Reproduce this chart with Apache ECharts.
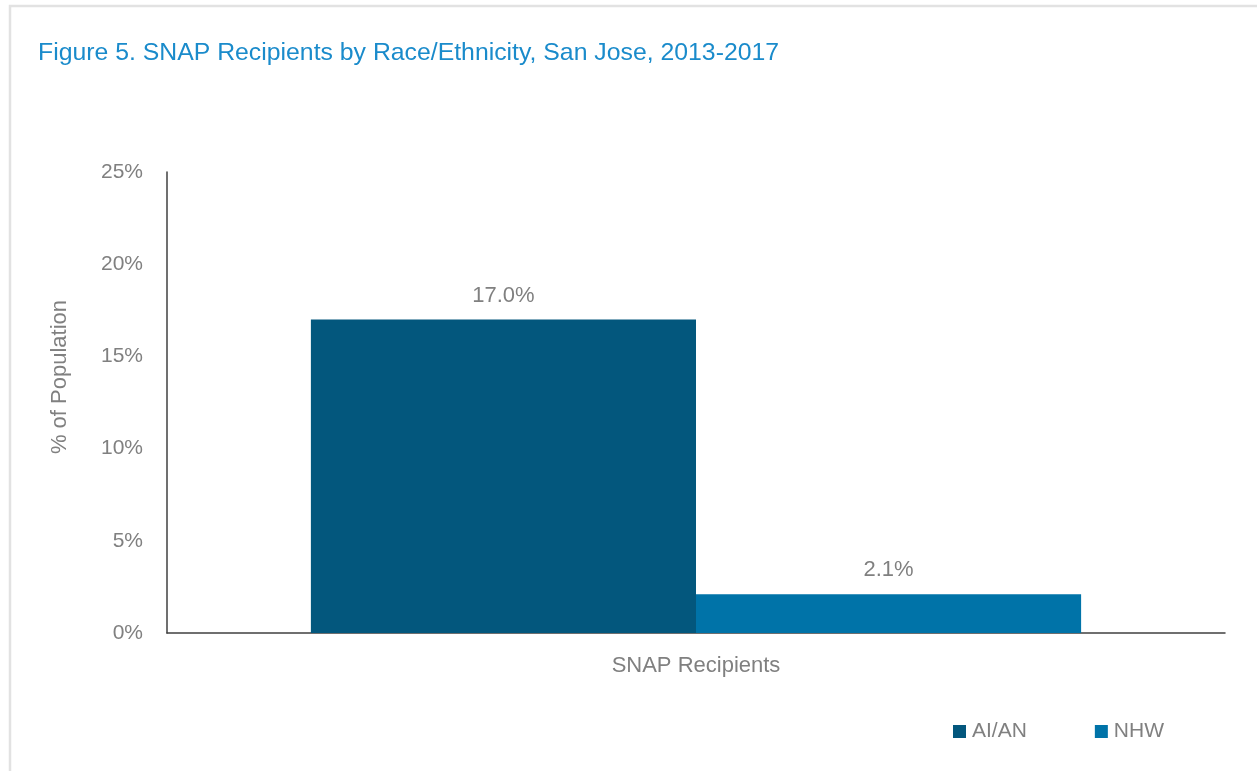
<!DOCTYPE html>
<html>
<head>
<meta charset="utf-8">
<script src="https://cdn.jsdelivr.net/npm/echarts@6/dist/echarts.min.js"></script>
<style>
html,body{margin:0;padding:0;background:#fff;}
#chart{width:1257px;height:771px;}
</style>
</head>
<body>
<div id="chart"></div>
<script>
var categories = ['SNAP Recipients'];
var seriesNames = ['AI/AN', 'NHW'];
var aianValues = [17.0];
var nhwValues = [2.1];
var yTicks = [0, 5, 10, 15, 20, 25];

var narrow = "'Liberation Sans Narrow', 'Arial Narrow', 'Liberation Sans', sans-serif";
var sans = "'Liberation Sans', Arial, sans-serif";
var grey = '#808080';

var chart = echarts.init(document.getElementById('chart'), null, {renderer: 'canvas'});
chart.setOption({
  animation: false,
  backgroundColor: '#ffffff',
  title: {
    text: 'Figure 5. SNAP Recipients by Race/Ethnicity, San Jose, 2013-2017',
    left: 33, top: 36,
    textStyle: {color: '#1a8bcb', fontFamily: narrow, fontWeight: 'normal', fontSize: 24.8}
  },
  graphic: [
    {type: 'rect', shape: {x: 10, y: 6, width: 1260, height: 800}, style: {fill: 'none', stroke: '#e2e2e2', lineWidth: 2.5}, silent: true},
    {type: 'text', x: 60, y: 377, rotation: Math.PI / 2,
     style: {text: '% of Population', fill: grey, font: '22px ' + sans, textAlign: 'center', textVerticalAlign: 'middle'}}
  ],
  legend: {
    data: seriesNames,
    left: 948, top: 716,
    itemWidth: 13, itemHeight: 13, itemGap: 68,
    icon: 'rect',
    textStyle: {color: grey, fontFamily: sans, fontSize: 21, padding: [0, 0, 0, 1]}
  },
  grid: {left: 167, right: 32, top: 172, bottom: 138, containLabel: false},
  xAxis: {
    type: 'category',
    data: categories,
    axisLine: {show: true, lineStyle: {color: '#404040', width: 1.5}},
    axisTick: {show: false},
    axisLabel: {color: grey, fontFamily: narrow, fontSize: 22, margin: 22}
  },
  yAxis: {
    type: 'value',
    min: yTicks[0], max: yTicks[yTicks.length - 1], interval: 5,
    axisLine: {show: true, lineStyle: {color: '#404040', width: 1.5}},
    axisTick: {show: false},
    splitLine: {show: false},
    axisLabel: {color: grey, fontFamily: sans, fontSize: 21, margin: 24, formatter: function (v) { return v + '%'; }}
  },
  series: [
    {name: seriesNames[0], type: 'bar', data: aianValues, barGap: '0%', barCategoryGap: '27.2%',
     itemStyle: {color: '#03577d'},
     label: {show: true, position: 'top', distance: 13, color: grey, fontFamily: sans, fontSize: 22,
             formatter: function (p) { return p.value.toFixed(1) + '%'; }}},
    {name: seriesNames[1], type: 'bar', data: nhwValues, barGap: '0%', barCategoryGap: '27.2%',
     itemStyle: {color: '#0073a8'},
     label: {show: true, position: 'top', distance: 13, color: grey, fontFamily: sans, fontSize: 22,
             formatter: function (p) { return p.value.toFixed(1) + '%'; }}}
  ]
});
</script>
</body>
</html>
